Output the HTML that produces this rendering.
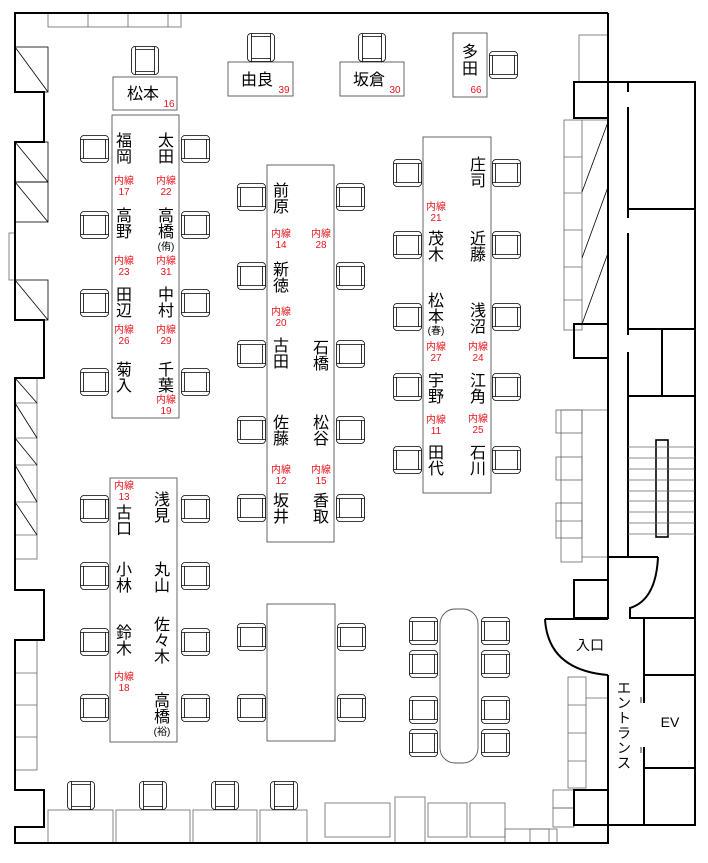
<!DOCTYPE html>
<html><head><meta charset="utf-8"><style>
html,body{margin:0;padding:0;background:#fff;}
svg{display:block;}
.n{font-family:"Liberation Sans","Noto Sans CJK JP",sans-serif;font-size:16px;fill:#000;text-anchor:middle;}
.r{font-family:"Liberation Sans","Noto Sans CJK JP",sans-serif;font-size:10px;fill:#e8141c;text-anchor:middle;}
.s{font-family:"Liberation Sans","Noto Sans CJK JP",sans-serif;font-size:10px;fill:#000;text-anchor:middle;}
</style></head><body>
<svg width="708" height="863" viewBox="0 0 708 863" xmlns="http://www.w3.org/2000/svg">
<defs>
<g id="ch">
<rect x="0.5" y="0.5" width="28" height="27" rx="3.5" fill="#fff" stroke="#000" stroke-width="0.8"/>
<line x1="0.5" y1="4.5" x2="28.5" y2="4.5" stroke="#000" stroke-width="0.8"/>
<line x1="0.5" y1="23.5" x2="28.5" y2="23.5" stroke="#000" stroke-width="0.8"/>
<line x1="3.5" y1="4.5" x2="3.5" y2="23.5" stroke="#000" stroke-width="0.8"/>
<line x1="25.5" y1="4.5" x2="25.5" y2="23.5" stroke="#000" stroke-width="0.8"/>
</g>
<g id="cv">
<rect x="0.5" y="0.5" width="27" height="28" rx="3.5" fill="#fff" stroke="#000" stroke-width="0.8"/>
<line y1="0.5" x1="4.5" y2="28.5" x2="4.5" stroke="#000" stroke-width="0.8"/>
<line y1="0.5" x1="23.5" y2="28.5" x2="23.5" stroke="#000" stroke-width="0.8"/>
<line y1="3.5" x1="4.5" y2="3.5" x2="23.5" stroke="#000" stroke-width="0.8"/>
<line y1="25.5" x1="4.5" y2="25.5" x2="23.5" stroke="#000" stroke-width="0.8"/>
</g>
</defs>

<g fill="none" stroke="#666" stroke-width="0.8">
<rect x="48" y="13" width="133" height="14"/><line x1="88" y1="13" x2="88" y2="27"/><line x1="128" y1="13" x2="128" y2="27"/><line x1="168" y1="13" x2="168" y2="27"/>
<rect x="15" y="47" width="33" height="45" stroke="#000"/><line x1="15" y1="47" x2="48" y2="92" stroke="#000"/>
<rect x="15" y="142" width="33" height="40" stroke="#000"/><line x1="15" y1="142" x2="48" y2="182" stroke="#000"/>
<rect x="15" y="182" width="33" height="40" stroke="#000"/><line x1="15" y1="182" x2="48" y2="222" stroke="#000"/>
<rect x="9" y="233" width="6" height="47"/>
<rect x="15" y="280" width="33" height="40" stroke="#000"/><line x1="15" y1="280" x2="48" y2="320" stroke="#000"/>
<rect x="15" y="378" width="22" height="181"/>
<line x1="15" y1="403" x2="37" y2="403"/><line x1="15" y1="438" x2="37" y2="438"/><line x1="15" y1="465" x2="37" y2="465"/><line x1="15" y1="502" x2="37" y2="502"/><line x1="15" y1="535" x2="37" y2="535"/>
<line x1="15" y1="378" x2="37" y2="403" stroke="#000"/><line x1="15" y1="403" x2="37" y2="438" stroke="#000"/><line x1="15" y1="438" x2="37" y2="465" stroke="#000"/><line x1="15" y1="465" x2="37" y2="502" stroke="#000"/><line x1="15" y1="502" x2="37" y2="535" stroke="#000"/>
<rect x="15" y="640" width="22" height="130"/><line x1="15" y1="673" x2="37" y2="673"/><line x1="15" y1="705" x2="37" y2="705"/><line x1="15" y1="737" x2="37" y2="737"/>
<rect x="48" y="810" width="65" height="33"/><rect x="116" y="810" width="74" height="33"/><rect x="193" y="810" width="64" height="33"/><rect x="260" y="810" width="47" height="33"/>
<rect x="325" y="803" width="65" height="34"/><rect x="395" y="797" width="30" height="46"/><rect x="428" y="803" width="39" height="34"/><rect x="470" y="803" width="35" height="34"/><rect x="505" y="829" width="52" height="14"/>
<rect x="579" y="35" width="29" height="47"/>
<rect x="564" y="120" width="18" height="210"/><line x1="564" y1="157" x2="582" y2="157"/><line x1="564" y1="193" x2="582" y2="193"/><line x1="564" y1="230" x2="582" y2="230"/><line x1="564" y1="267" x2="582" y2="267"/><line x1="564" y1="300" x2="582" y2="300"/>
<line x1="582" y1="120" x2="608" y2="120"/>
<line x1="582" y1="192" x2="608" y2="122" stroke="#000"/><line x1="582" y1="258" x2="608" y2="187" stroke="#000"/><line x1="582" y1="324" x2="608" y2="253" stroke="#000"/>
<rect x="561" y="410" width="21" height="152"/><line x1="582" y1="410" x2="608" y2="410"/><line x1="582" y1="557" x2="608" y2="557"/>
<rect x="556" y="410" width="26" height="23"/><rect x="556" y="457" width="26" height="23"/><rect x="556" y="503" width="26" height="35"/><line x1="556" y1="521" x2="582" y2="521"/>
<rect x="568" y="677" width="18" height="111"/><line x1="568" y1="705" x2="586" y2="705"/><line x1="568" y1="733" x2="586" y2="733"/><line x1="568" y1="761" x2="586" y2="761"/><line x1="586" y1="698" x2="608" y2="698"/>
<rect x="553" y="790" width="21" height="18"/><rect x="553" y="808" width="21" height="19"/><rect x="530" y="829" width="19" height="14"/>
</g>

<g fill="none" stroke="#000" stroke-width="2">
<polyline points="608,13 15,13 15,92 44,92 44,142 15,142 15,320 44,320 44,378 15,378 15,590 44,590 44,640 15,640 15,790 44,790 44,827 15,827 15,843 608,843 608,675"/>
<line x1="608" y1="13" x2="608" y2="618"/>
<rect x="574" y="82" width="34" height="36"/>
<polyline points="608,82 695,82 695,825 608,825"/>
<line x1="628" y1="82" x2="628" y2="92"/><line x1="628" y1="107" x2="628" y2="218"/><line x1="628" y1="233" x2="628" y2="335"/><line x1="628" y1="352" x2="628" y2="557"/>
<line x1="628" y1="209" x2="695" y2="209"/>
<line x1="628" y1="329" x2="695" y2="329"/><line x1="662" y1="329" x2="662" y2="396"/><line x1="628" y1="396" x2="695" y2="396"/>
<rect x="574" y="324" width="34" height="34"/>
<rect x="656" y="440" width="12" height="97" stroke-width="1.6"/>
<line x1="608" y1="557" x2="658" y2="557"/>
<path d="M658,557 Q656,600 630,608 L630,618 L695,618"/>
<rect x="574" y="580" width="34" height="38"/>
<path d="M545,619 L608,619 M545,619 Q548,670 608,675"/>
<line x1="644" y1="619" x2="644" y2="703"/><line x1="644" y1="747" x2="644" y2="825"/>
<line x1="644" y1="675" x2="695" y2="675"/><line x1="644" y1="768" x2="695" y2="768"/>
<rect x="574" y="790" width="34" height="35"/>
</g>
<g stroke="#000" stroke-width="0.8"><line x1="641" y1="697" x2="641" y2="703"/><line x1="641" y1="747" x2="641" y2="753"/></g>
<g stroke="#666" stroke-width="0.8">
<line x1="628" y1="447" x2="695" y2="447"/><line x1="628" y1="458" x2="695" y2="458"/><line x1="628" y1="469" x2="695" y2="469"/><line x1="628" y1="480" x2="695" y2="480"/><line x1="628" y1="491" x2="695" y2="491"/><line x1="628" y1="501" x2="695" y2="501"/><line x1="628" y1="512" x2="695" y2="512"/><line x1="628" y1="523" x2="695" y2="523"/><line x1="628" y1="534" x2="695" y2="534"/>
</g>

<g fill="#fff" stroke="#555" stroke-width="0.9">
<rect x="113" y="77" width="64" height="33"/>
<rect x="228" y="62" width="65" height="34"/>
<rect x="340" y="62" width="64" height="34"/>
<rect x="453" y="33" width="34" height="64"/>
<rect x="112" y="115" width="67" height="303"/>
<rect x="267" y="165" width="67" height="377"/>
<rect x="423" y="137" width="68" height="356"/>
<rect x="110" y="478" width="67" height="264"/>
<rect x="267" y="604" width="68" height="137"/>
<rect x="440" y="609" width="38" height="154" rx="15"/>
</g>

<use href="#cv" x="131" y="46"/><use href="#cv" x="247" y="33"/><use href="#cv" x="358" y="33"/><use href="#ch" x="489" y="51"/>
<use href="#ch" x="80" y="135"/><use href="#ch" x="80" y="211"/><use href="#ch" x="80" y="289"/><use href="#ch" x="80" y="368"/>
<use href="#ch" x="181" y="135"/><use href="#ch" x="181" y="211"/><use href="#ch" x="181" y="289"/><use href="#ch" x="181" y="368"/>
<use href="#ch" x="237" y="183"/><use href="#ch" x="237" y="262"/><use href="#ch" x="237" y="340"/><use href="#ch" x="237" y="416"/><use href="#ch" x="237" y="494"/>
<use href="#ch" x="336" y="183"/><use href="#ch" x="336" y="262"/><use href="#ch" x="336" y="340"/><use href="#ch" x="336" y="416"/><use href="#ch" x="336" y="494"/>
<use href="#ch" x="393" y="159"/><use href="#ch" x="393" y="231"/><use href="#ch" x="393" y="303"/><use href="#ch" x="393" y="373"/><use href="#ch" x="393" y="446"/>
<use href="#ch" x="492" y="159"/><use href="#ch" x="492" y="231"/><use href="#ch" x="492" y="303"/><use href="#ch" x="492" y="373"/><use href="#ch" x="492" y="446"/>
<use href="#ch" x="80" y="495"/><use href="#ch" x="80" y="562"/><use href="#ch" x="80" y="628"/><use href="#ch" x="80" y="694"/>
<use href="#ch" x="181" y="495"/><use href="#ch" x="181" y="562"/><use href="#ch" x="181" y="628"/><use href="#ch" x="181" y="694"/>
<use href="#ch" x="237" y="623"/><use href="#ch" x="237" y="694"/><use href="#ch" x="337" y="623"/><use href="#ch" x="337" y="694"/>
<use href="#ch" x="409" y="617"/><use href="#ch" x="409" y="650"/><use href="#ch" x="409" y="696"/><use href="#ch" x="409" y="729"/>
<use href="#ch" x="481" y="617"/><use href="#ch" x="481" y="650"/><use href="#ch" x="481" y="696"/><use href="#ch" x="481" y="729"/>
<use href="#cv" x="67" y="781"/><use href="#cv" x="139" y="781"/><use href="#cv" x="211" y="781"/><use href="#cv" x="270" y="781"/>

<text class="n" x="143" y="99">松本</text><text class="r" x="169" y="107">16</text>
<text class="n" x="257" y="85">由良</text><text class="r" x="284" y="93">39</text>
<text class="n" x="369" y="85">坂倉</text><text class="r" x="395" y="93">30</text>
<text class="n" x="470" y="57">多</text><text class="n" x="470" y="74">田</text><text class="r" x="476" y="93">66</text>

<text class="n" x="124" y="146">福</text><text class="n" x="124" y="162">岡</text>
<text class="r" x="124" y="184">内線</text><text class="r" x="124" y="195">17</text>
<text class="n" x="124" y="221">高</text><text class="n" x="124" y="237">野</text>
<text class="r" x="124" y="264">内線</text><text class="r" x="124" y="275">23</text>
<text class="n" x="124" y="300">田</text><text class="n" x="124" y="316">辺</text>
<text class="r" x="124" y="333">内線</text><text class="r" x="124" y="344">26</text>
<text class="n" x="124" y="375">菊</text><text class="n" x="124" y="391">入</text>
<text class="n" x="166" y="146">太</text><text class="n" x="166" y="162">田</text>
<text class="r" x="166" y="184">内線</text><text class="r" x="166" y="195">22</text>
<text class="n" x="166" y="221">高</text><text class="n" x="166" y="237">橋</text><text class="s" x="166" y="250">(侑)</text>
<text class="r" x="166" y="264">内線</text><text class="r" x="166" y="275">31</text>
<text class="n" x="166" y="300">中</text><text class="n" x="166" y="316">村</text>
<text class="r" x="166" y="333">内線</text><text class="r" x="166" y="344">29</text>
<text class="n" x="166" y="375">千</text><text class="n" x="166" y="391">葉</text>
<text class="r" x="166" y="403">内線</text><text class="r" x="166" y="414">19</text>

<text class="n" x="281" y="196">前</text><text class="n" x="281" y="212">原</text>
<text class="r" x="281" y="237">内線</text><text class="r" x="281" y="248">14</text>
<text class="n" x="281" y="275">新</text><text class="n" x="281" y="291">徳</text>
<text class="r" x="281" y="315">内線</text><text class="r" x="281" y="326">20</text>
<text class="n" x="281" y="351">古</text><text class="n" x="281" y="367">田</text>
<text class="n" x="281" y="428">佐</text><text class="n" x="281" y="444">藤</text>
<text class="r" x="281" y="473">内線</text><text class="r" x="281" y="484">12</text>
<text class="n" x="281" y="506">坂</text><text class="n" x="281" y="522">井</text>
<text class="r" x="321" y="237">内線</text><text class="r" x="321" y="248">28</text>
<text class="n" x="321" y="353">石</text><text class="n" x="321" y="369">橋</text>
<text class="n" x="321" y="428">松</text><text class="n" x="321" y="444">谷</text>
<text class="r" x="321" y="473">内線</text><text class="r" x="321" y="484">15</text>
<text class="n" x="321" y="506">香</text><text class="n" x="321" y="522">取</text>

<text class="r" x="436" y="210">内線</text><text class="r" x="436" y="221">21</text>
<text class="n" x="436" y="244">茂</text><text class="n" x="436" y="260">木</text>
<text class="n" x="436" y="306">松</text><text class="n" x="436" y="322">本</text><text class="s" x="436" y="334">(春)</text>
<text class="r" x="436" y="350">内線</text><text class="r" x="436" y="361">27</text>
<text class="n" x="436" y="386">宇</text><text class="n" x="436" y="402">野</text>
<text class="r" x="436" y="423">内線</text><text class="r" x="436" y="434">11</text>
<text class="n" x="436" y="458">田</text><text class="n" x="436" y="474">代</text>
<text class="n" x="478" y="170">庄</text><text class="n" x="478" y="186">司</text>
<text class="n" x="478" y="244">近</text><text class="n" x="478" y="260">藤</text>
<text class="n" x="478" y="316">浅</text><text class="n" x="478" y="332">沼</text>
<text class="r" x="478" y="350">内線</text><text class="r" x="478" y="361">24</text>
<text class="n" x="478" y="386">江</text><text class="n" x="478" y="402">角</text>
<text class="r" x="478" y="422">内線</text><text class="r" x="478" y="433">25</text>
<text class="n" x="478" y="458">石</text><text class="n" x="478" y="474">川</text>

<text class="r" x="124" y="489">内線</text><text class="r" x="124" y="500">13</text>
<text class="n" x="124" y="518">古</text><text class="n" x="124" y="534">口</text>
<text class="n" x="124" y="575">小</text><text class="n" x="124" y="591">林</text>
<text class="n" x="124" y="638">鈴</text><text class="n" x="124" y="654">木</text>
<text class="r" x="124" y="680">内線</text><text class="r" x="124" y="691">18</text>
<text class="n" x="162" y="505">浅</text><text class="n" x="162" y="521">見</text>
<text class="n" x="162" y="575">丸</text><text class="n" x="162" y="591">山</text>
<text class="n" x="162" y="630">佐</text><text class="n" x="162" y="646">々</text><text class="n" x="162" y="662">木</text>
<text class="n" x="162" y="706">高</text><text class="n" x="162" y="722">橋</text><text class="s" x="162" y="735">(裕)</text>

<text class="n" x="590" y="650" style="font-size:14px">入口</text>
<text class="n" x="624" y="693" style="font-size:14px">エ</text><text class="n" x="624" y="708" style="font-size:14px">ン</text><text class="n" x="624" y="723" style="font-size:14px">ト</text><text class="n" x="624" y="738" style="font-size:14px">ラ</text><text class="n" x="624" y="753" style="font-size:14px">ン</text><text class="n" x="624" y="768" style="font-size:14px">ス</text>
<text class="n" x="670" y="727" style="font-size:14px">EV</text>
</svg>
</body></html>
